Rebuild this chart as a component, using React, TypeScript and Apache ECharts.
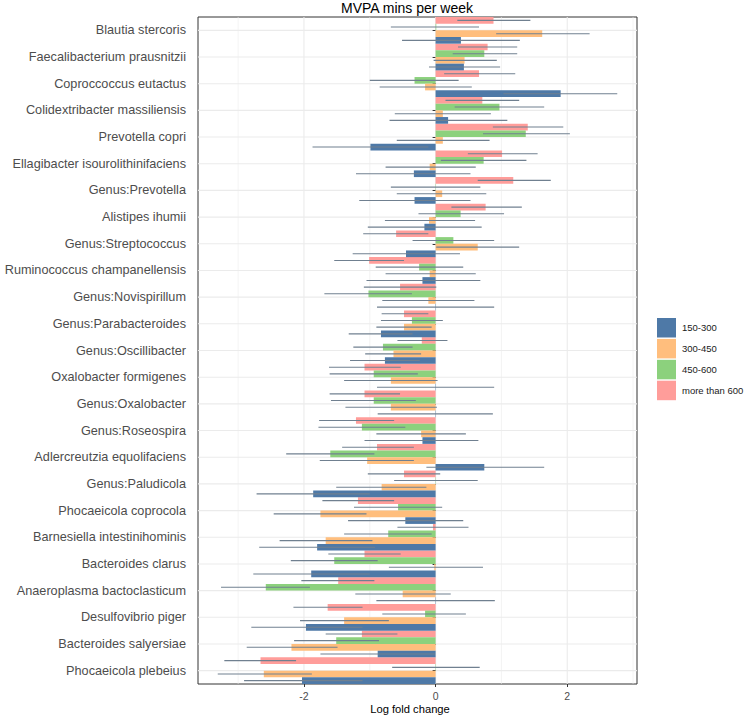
import React, { useEffect, useRef } from 'react';
import * as echarts from 'echarts';

const categories = [
  'Blautia stercoris',
  'Faecalibacterium prausnitzii',
  'Coproccoccus eutactus',
  'Colidextribacter massiliensis',
  'Prevotella copri',
  'Ellagibacter isourolithinifaciens',
  'Genus:Prevotella',
  'Alistipes ihumii',
  'Genus:Streptococcus',
  'Ruminococcus champanellensis',
  'Genus:Novispirillum',
  'Genus:Parabacteroides',
  'Genus:Oscillibacter',
  'Oxalobacter formigenes',
  'Genus:Oxalobacter',
  'Genus:Roseospira',
  'Adlercreutzia equolifaciens',
  'Genus:Paludicola',
  'Phocaeicola coprocola',
  'Barnesiella intestinihominis',
  'Bacteroides clarus',
  'Anaeroplasma bactoclasticum',
  'Desulfovibrio piger',
  'Bacteroides salyersiae',
  'Phocaeicola plebeius',
];

const groups = ['150-300', '300-450', '450-600', 'more than 600'];
const groupColors = ['#4E79A7', '#FFBE7D', '#8CD17D', '#FF9D9A'];

// 150-300
const values150 = [0.385, 0.43, 1.9, 0.19, -0.99, -0.33, -0.32, -0.17, -0.45, -0.2, 0.005, -0.83, -0.77, 0.005, 0.005, -0.2, 0.74, -1.86, -0.46, -1.8, -1.89, 0.005, -1.97, -0.88, -2.03];
const low150 = [-0.51, -0.1, 1.03, -0.7, -1.87, -1.21, -1.16, -1.03, -1.26, -1.05, -0.89, -1.32, -1.3, -0.89, -0.88, -1.08, -0.14, -2.72, -1.33, -2.68, -2.77, -0.9, -2.8, -1.75, -2.91];
const high150 = [1.28, 0.98, 2.76, 1.09, -0.11, 0.53, 0.53, 0.7, 0.37, 0.68, 0.89, -0.35, -0.24, 0.89, 0.87, 0.65, 1.65, -1.0, 0.42, -0.92, -1.0, 0.9, -1.11, -0.01, -1.11];

// 300-450
const values300 = [1.62, 0.44, -0.16, 0.11, 0.11, -0.09, 0.1, -0.1, 0.64, -0.09, -0.11, -0.48, -0.64, -0.68, -0.68, -0.22, -1.04, -0.82, -1.75, -1.67, -0.02, -0.5, -1.39, -2.19, -2.61];
const low300 = [0.92, -0.03, -0.85, -0.62, -0.59, -0.76, -0.59, -0.77, 0.01, -0.76, -0.81, -0.9, -1.07, -1.39, -1.37, -0.9, -1.76, -1.51, -2.46, -2.37, -0.71, -1.22, -2.06, -2.87, -3.31];
const high300 = [2.34, 0.93, 0.55, 0.84, 0.82, 0.61, 0.77, 0.6, 1.27, 0.61, 0.59, -0.06, -0.22, 0.03, 0.02, 0.46, -0.33, -0.14, -1.05, -0.96, 0.72, 0.23, -0.71, -1.49, -1.88];

// 450-600
const values450 = [0.01, 0.74, -0.32, 0.97, 1.37, 0.73, 0.005, 0.38, 0.27, -0.25, -1.02, -0.36, -0.8, -0.94, -0.94, -1.12, -1.6, 0.005, -0.57, -0.72, -1.54, -2.58, -0.16, -1.51, 0.005];
const low450 = [-0.68, 0.26, -1.0, 0.29, 0.72, 0.08, -0.68, -0.26, -0.35, -0.91, -1.69, -0.83, -1.25, -1.61, -1.59, -1.78, -2.27, -0.63, -1.24, -1.39, -2.2, -3.26, -0.81, -2.15, -0.66];
const high450 = [0.66, 1.24, 0.35, 1.65, 2.04, 1.38, 0.68, 1.04, 0.89, 0.42, -0.36, 0.11, -0.35, -0.27, -0.3, -0.46, -0.93, 0.64, 0.1, -0.06, -0.88, -1.91, 0.46, -0.86, 0.67];

// more than 600
const values600 = [0.88, 0.79, 0.66, 0.71, 1.4, 1.01, 1.18, 0.76, -0.6, -1.01, -0.54, -0.48, -0.21, -1.08, -1.08, -1.21, -0.89, -0.48, -1.18, -0.04, -1.08, -1.48, -1.64, -1.12, -2.66];
const low600 = [0.33, 0.34, 0.13, 0.15, 0.87, 0.49, 0.64, 0.24, -1.1, -1.54, -1.09, -0.82, -0.58, -1.62, -1.61, -1.77, -1.42, -1.03, -1.72, -0.58, -1.63, -2.04, -2.16, -1.67, -3.21];
const high600 = [1.44, 1.24, 1.21, 1.27, 1.94, 1.55, 1.75, 1.31, -0.11, -0.48, 0.01, -0.11, 0.18, -0.53, -0.54, -0.63, -0.33, 0.07, -0.63, 0.5, -0.53, -0.93, -1.11, -0.58, -2.12];

const xTicks = [-2, 0, 2];
const xMinorGrid = [-3, -1, 1, 3];

const FONT = '"Liberation Sans", Arial, Helvetica, sans-serif';

const App: React.FC = () => {
  const chartRef = useRef<HTMLDivElement>(null);

  useEffect(() => {
    document.body.style.margin = '0';
    if (!chartRef.current) return;
    const chart = echarts.init(chartRef.current, undefined, { renderer: 'svg' });

    const allValues = [values150, values300, values450, values600];
    const allLow = [low150, low300, low450, low600];
    const allHigh = [high150, high300, high450, high600];

    // top-to-bottom order inside each category: more than 600, 450-600, 300-450, 150-300
    const drawOrder = [3, 2, 1, 0];

    const barSeries = drawOrder.map((g) => ({
      name: groups[g],
      type: 'bar',
      data: allValues[g],
      itemStyle: { color: groupColors[g] },
      barGap: '0%',
      barCategoryGap: '0%',
      z: 2,
    }));

    const errorData: any[] = [];
    drawOrder.forEach((g, pos) => {
      categories.forEach((c, i) => {
        errorData.push([allLow[g][i], allHigh[g][i], c, pos]);
      });
    });

    const errorSeries = {
      type: 'custom',
      silent: true,
      z: 3,
      data: errorData,
      encode: { x: [0, 1], y: 2 },
      renderItem: (params: any, api: any) => {
        const cat = api.value(2);
        const p1 = api.coord([api.value(0), cat]);
        const p2 = api.coord([api.value(1), cat]);
        const band = api.size([0, 1])[1];
        const y = p1[1] + (api.value(3) - 1.5) * (band / 4);
        return {
          type: 'line',
          shape: { x1: p1[0], y1: y, x2: p2[0], y2: y },
          style: { stroke: '#708090', lineWidth: 1.1 },
        };
      },
    };

    const vGridSeries = {
      type: 'custom',
      silent: true,
      z: 0,
      data: [...xTicks.map((v) => [v, categories[0], 1]), ...xMinorGrid.map((v) => [v, categories[0], 0])],
      encode: { x: 0, y: 1 },
      renderItem: (params: any, api: any) => {
        const cs = params.coordSys;
        const x = api.coord([api.value(0), 0])[0];
        return {
          type: 'line',
          shape: { x1: x, y1: cs.y, x2: x, y2: cs.y + cs.height },
          style: { stroke: '#ebebeb', lineWidth: api.value(2) ? 1.1 : 0.6 },
        };
      },
    };

    const hGridSeries = {
      type: 'custom',
      silent: true,
      z: 0,
      data: categories.map((c) => [0, c]),
      encode: { x: 0, y: 1 },
      renderItem: (params: any, api: any) => {
        const cs = params.coordSys;
        const y = api.coord([0, api.value(1)])[1];
        return {
          type: 'line',
          shape: { x1: cs.x, y1: y, x2: cs.x + cs.width, y2: y },
          style: { stroke: '#ebebeb', lineWidth: 1.1 },
        };
      },
    };

    const option = {
      animation: false,
      backgroundColor: '#ffffff',
      textStyle: { fontFamily: FONT },
      grid: {
        left: 198,
        right: 109,
        top: 17,
        bottom: 32,
        show: true,
        borderColor: '#333333',
        borderWidth: 1,
        backgroundColor: 'transparent',
      },
      legend: {
        orient: 'vertical',
        left: 657,
        top: 318,
        padding: 0,
        itemWidth: 19,
        itemHeight: 19.5,
        itemGap: 1.4,
        icon: 'rect',
        data: groups,
        selectedMode: false,
        textStyle: { fontFamily: FONT, fontSize: 9.5, color: '#1a1a1a', padding: [0, 0, 0, 1] },
      },
      xAxis: {
        type: 'value',
        min: -3.61,
        max: 3.06,
        axisLine: { show: false },
        splitLine: { show: false },
        axisTick: {
          show: true,
          length: 3,
          customValues: xTicks,
          lineStyle: { color: '#333333', width: 1 },
        },
        axisLabel: {
          customValues: xTicks,
          fontFamily: FONT,
          fontSize: 10.5,
          color: '#4d4d4d',
          margin: 6,
        },
      },
      yAxis: {
        type: 'category',
        data: categories,
        inverse: true,
        axisLine: { show: false },
        splitLine: { show: false },
        axisTick: {
          show: true,
          alignWithLabel: true,
          length: 3,
          lineStyle: { color: '#333333', width: 1 },
        },
        axisLabel: {
          fontFamily: FONT,
          fontSize: 12.7,
          color: '#4d4d4d',
          margin: 12,
        },
      },
      graphic: [
        {
          type: 'text',
          x: 407,
          y: 8,
          style: {
            text: 'MVPA mins per week',
            font: `14px ${FONT}`,
            fill: '#000000',
            align: 'center',
            verticalAlign: 'middle',
          },
        },
        {
          type: 'text',
          x: 410,
          y: 709,
          style: {
            text: 'Log fold change',
            font: `11.2px ${FONT}`,
            fill: '#000000',
            align: 'center',
            verticalAlign: 'middle',
          },
        },
      ],
      series: [vGridSeries, hGridSeries, ...barSeries, errorSeries],
    };

    chart.setOption(option as any);

    return () => {
      chart.dispose();
    };
  }, []);

  return <div ref={chartRef} style={{ width: '746px', height: '716px', overflow: 'hidden' }} />;
};

export default App;
